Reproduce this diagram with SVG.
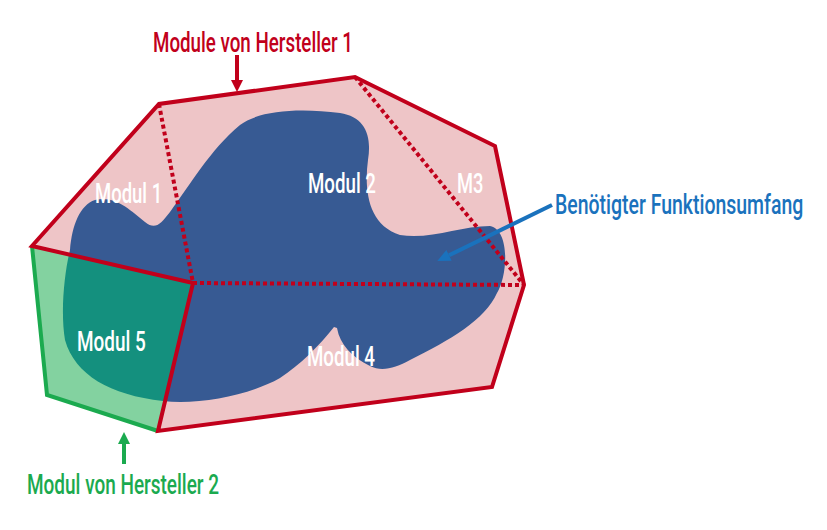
<svg xmlns="http://www.w3.org/2000/svg" width="827" height="530" viewBox="0 0 827 530">
<style>
.solid{fill:none;stroke:#C1001B;stroke-width:4;stroke-linejoin:miter;stroke-linecap:round}
.dot{fill:none;stroke:#C1001B;stroke-width:4;stroke-dasharray:4 3}
.lbl{font-family:Roboto,"Liberation Sans",sans-serif;font-weight:500;font-size:27px}
.w{fill:#FFFFFF}
</style>
<defs>
<clipPath id="greenClip"><polygon points="32,246 193,283 158,431 47,395"/></clipPath>
<path id="blobPath" d="M70,250 C72,225 80,205 95,200 C115,195 130,210 145,222 C155,230 160,225 170,212 C190,185 210,150 240,125 C260,110 300,108 340,113 C365,117 372,135 368,160 C364,190 368,225 400,235 C430,240 460,226 490,226 C510,230 508,275 497,293 C485,320 450,340 410,360 C395,368 382,372 370,366 C352,357 340,345 337,328 L334,327 C320,345 300,365 280,378 C250,395 200,405 163,401 C110,395 75,375 65,340 C60,310 65,270 70,250 Z"/>
<marker id="ah-red" markerUnits="userSpaceOnUse" markerWidth="14" markerHeight="14" refX="0" refY="6" orient="auto"><path d="M0,0 L12,6 L0,12 Z" fill="#C1001B"/></marker>
<marker id="ah-blue" markerUnits="userSpaceOnUse" markerWidth="14" markerHeight="14" refX="0" refY="6" orient="auto"><path d="M0,0 L13,6 L0,12 Z" fill="#1A72BD"/></marker>
<marker id="ah-green" markerUnits="userSpaceOnUse" markerWidth="14" markerHeight="14" refX="0" refY="6" orient="auto"><path d="M0,0 L12,6 L0,12 Z" fill="#1BAA4F"/></marker>
</defs>

<g id="hersteller1-area">
<polygon points="32,246 159,104 355,77 495,146 524,285 492,387 158,431 193,283" fill="#EEC5C7"/>
</g>
<g id="funktionsumfang">
<use href="#blobPath" fill="#375A93"/>
</g>
<g id="hersteller2-area">
<polygon points="32,246 193,283 158,431 47,395" fill="#83D2A0"/>
<use href="#blobPath" fill="#14907E" clip-path="url(#greenClip)"/>
<polyline points="32,246 47,395 158,431" fill="none" stroke="#1BAA4F" stroke-width="4" stroke-linejoin="miter"/>
</g>
<g id="module-borders">
<line class="dot" x1="159" y1="104" x2="193" y2="283"/>
<line class="dot" x1="355" y1="77" x2="524" y2="285"/>
<line class="dot" x1="193" y1="283" x2="524" y2="285"/>
<polyline class="solid" points="193,283 32,246 159,104 355,77 495,146 524,285 492,387 158,431 193,283"/>
</g>

<g id="modul1"><text class="lbl w" transform="translate(95,203) scale(0.8,1)" textLength="84" lengthAdjust="spacingAndGlyphs">Modul 1</text></g>
<g id="modul2"><text class="lbl w" transform="translate(308,193) scale(0.8,1)" textLength="85" lengthAdjust="spacingAndGlyphs">Modul 2</text></g>
<g id="modul3"><text class="lbl w" transform="translate(457,193) scale(0.8,1)" textLength="33" lengthAdjust="spacingAndGlyphs">M3</text></g>
<g id="modul4"><text class="lbl w" transform="translate(307,366) scale(0.8,1)" textLength="85" lengthAdjust="spacingAndGlyphs">Modul 4</text></g>
<g id="modul5"><text class="lbl w" transform="translate(77,351) scale(0.8,1)" textLength="86" lengthAdjust="spacingAndGlyphs">Modul 5</text></g>

<g id="label-hersteller1"><text class="lbl" fill="#C1001B" transform="translate(153,52) scale(0.8,1)" textLength="250" lengthAdjust="spacingAndGlyphs">Module von Hersteller 1</text></g>
<g id="label-funktionsumfang"><text class="lbl" fill="#1A72BD" transform="translate(555,214) scale(0.75,1)" textLength="331" lengthAdjust="spacingAndGlyphs">Benötigter Funktionsumfang</text></g>
<g id="label-hersteller2"><text class="lbl" fill="#1BAA4F" transform="translate(27,494) scale(0.8,1)" textLength="240" lengthAdjust="spacingAndGlyphs">Modul von Hersteller 2</text></g>

<g id="connectors">
<line x1="237" y1="55" x2="237" y2="80" stroke="#C1001B" stroke-width="4" marker-end="url(#ah-red)"/>
<line x1="552" y1="205" x2="449" y2="255.3" stroke="#1A72BD" stroke-width="4" marker-end="url(#ah-blue)"/>
<line x1="124" y1="464" x2="124" y2="444" stroke="#1BAA4F" stroke-width="4" marker-end="url(#ah-green)"/>
</g>
</svg>
